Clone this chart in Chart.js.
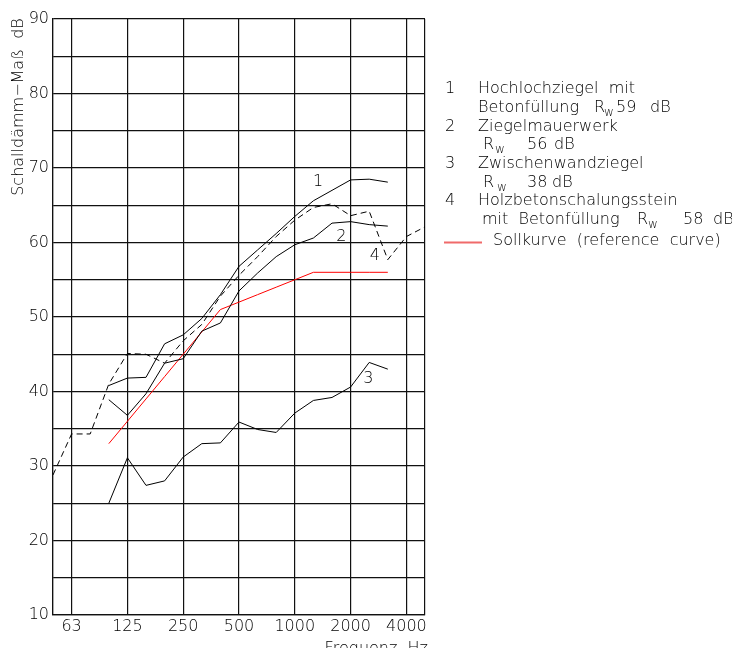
<!DOCTYPE html>
<html>
<head>
<meta charset="utf-8">
<script src="https://cdn.jsdelivr.net/npm/chart.js@4/dist/chart.umd.min.js"></script>
<style>
html,body{margin:0;padding:0;background:#fff;}
#wrap{width:732px;height:648px;}
</style>
</head>
<body>
<div id="wrap"><canvas id="c" width="732" height="648"></canvas></div>
<script>
// third-octave band centres (index 0 .. 20)
const bands = ['50','63','80','100','125','160','200','250','315','400','500','630','800','1000','1250','1600','2000','2500','3150','4000','5000'];
const tickBands = ['63','125','250','500','1000','2000','4000'];
// curves from 100 Hz to 3150 Hz
const bands100 = ['100','125','160','200','250','315','400','500','630','800','1000','1250','1600','2000','2500','3150'];
const hochlochziegel = [40.8, 41.8, 41.9, 46.4, 47.6, 49.8, 53.0, 56.8, 59.0, 61.2, 63.5, 65.6, 67.0, 68.4, 68.5, 68.1];
const ziegelmauerwerk = [38.9, 36.8, 39.7, 43.8, 44.4, 48.1, 49.2, 53.5, 55.9, 58.1, 59.7, 60.6, 62.6, 62.8, 62.4, 62.2];
const zwischenwandziegel = [25.0, 31.1, 27.4, 28.0, 31.2, 33.0, 33.1, 35.9, 34.9, 34.5, 37.1, 38.8, 39.2, 40.6, 43.9, 43.0];
const sollkurve = [33, 36, 39, 42, 45, 48, 51, 52, 53, 54, 55, 56, 56, 56, 56, 56];
// dashed curve from 50 Hz to 5000 Hz
const holzbeton = [28.8, 34.3, 34.3, 41.0, 45.1, 45.0, 43.8, 46.8, 49.0, 52.8, 55.6, 58.1, 60.8, 63.0, 64.7, 65.2, 63.6, 64.2, 57.7, 60.8, 62.1];

const yTicks = [10, 20, 30, 40, 50, 60, 70, 80, 90];

function pts(freqs, vals) {
  return vals.map((v, i) => ({ x: bands.indexOf(freqs[i]), y: v }));
}

const FONT = "'DejaVu Sans', 'Liberation Sans', sans-serif";
const TXT = '#000';

const textPlugin = {
  id: 'texts',
  afterDraw(chart) {
    const ctx = chart.ctx;
    const xs = chart.scales.x, ys = chart.scales.y;
    ctx.save();
    ctx.fillStyle = TXT;
    ctx.font = '200 16px ' + FONT;
    // y-axis title
    ctx.save();
    ctx.translate(19, 107);
    ctx.rotate(-Math.PI / 2);
    ctx.textAlign = 'center';
    ctx.textBaseline = 'middle';
    ctx.fillText('Schalldämm\u2212Maß  dB', 0, 0);
    ctx.restore();
    // x-axis title
    ctx.textAlign = 'right';
    ctx.textBaseline = 'alphabetic';
    ctx.fillText('Frequenz  Hz', 428, 653);
    // curve numbers
    ctx.textAlign = 'center';
    ctx.textBaseline = 'middle';
    const ann = [['1', 14.25, 68.2], ['2', 15.5, 60.7], ['3', 16.95, 41.7], ['4', 17.3, 58.2]];
    ann.forEach(a => ctx.fillText(a[0], xs.getPixelForValue(a[1]), ys.getPixelForValue(a[2])));
    // legend
    ctx.textAlign = 'left';
    const put = (s, x, y) => ctx.fillText(s, x, y);
    const sub = (x, y) => { ctx.font = '200 12px ' + FONT; ctx.fillText('w', x, y + 5); ctx.font = '200 16px ' + FONT; };
    put('1', 445, 89); put('Hochlochziegel  mit', 478, 89);
    put('Betonfüllung', 478, 107.5); put('R', 594, 107.5); sub(604, 107.5); put('59', 616, 107.5); put('dB', 650, 107.5);
    put('2', 445, 126.5); put('Ziegelmauerwerk', 478, 126.5);
    put('R', 483, 145); sub(495, 145); put('56', 527, 145); put('dB', 554, 145);
    put('3', 445, 164); put('Zwischenwandziegel', 478, 164);
    put('R', 483, 182.5); sub(497, 182.5); put('38', 527, 182.5); put('dB', 552, 182.5);
    put('4', 445, 201); put('Holzbetonschalungsstein', 478, 201);
    put('mit  Betonfüllung', 482, 220); put('R', 637, 220); sub(648, 220); put('58', 683, 220); put('dB', 713, 220);
    ctx.strokeStyle = '#f06a6a';
    ctx.lineWidth = 2;
    ctx.beginPath(); ctx.moveTo(444, 242.5); ctx.lineTo(482, 242.5); ctx.stroke();
    put('Sollkurve  (reference  curve)', 493, 241);
    ctx.restore();
  }
};

const lineBase = { borderColor: '#000', borderWidth: 1, pointRadius: 0, tension: 0, fill: false };

new Chart(document.getElementById('c'), {
  type: 'line',
  data: {
    datasets: [
      Object.assign({ label: 'Hochlochziegel', data: pts(bands100, hochlochziegel) }, lineBase),
      Object.assign({ label: 'Ziegelmauerwerk', data: pts(bands100, ziegelmauerwerk) }, lineBase),
      Object.assign({ label: 'Zwischenwandziegel', data: pts(bands100, zwischenwandziegel) }, lineBase),
      Object.assign({}, lineBase, { label: 'Holzbetonschalungsstein', data: pts(bands, holzbeton), borderDash: [6, 4] }),
      Object.assign({}, lineBase, { label: 'Sollkurve', data: pts(bands100, sollkurve), borderColor: '#ff0000' })
    ]
  },
  options: {
    responsive: false,
    animation: false,
    events: [],
    layout: { padding: { left: 0, right: 307, top: 19, bottom: 0 } },
    plugins: { legend: { display: false }, tooltip: { enabled: false } },
    scales: {
      x: {
        type: 'linear', min: 0, max: bands.length - 1,
        afterBuildTicks(scale) {
          const t = [0, ...tickBands.map(b => bands.indexOf(b)), bands.length - 1];
          scale.ticks = t.map(v => ({ value: v }));
        },
        afterFit(scale) { scale.height = 33; },
        ticks: {
          autoSkip: false, maxRotation: 0, padding: 2,
          color: TXT, font: { family: FONT, size: 16, weight: 200 },
          callback(v) { const b = bands[v]; return tickBands.includes(b) ? b : ''; }
        },
        grid: { color: '#111', lineWidth: 1.2, drawTicks: false },
        border: { color: '#111', width: 1.2 }
      },
      y: {
        min: 10, max: 90,
        afterFit(scale) { scale.width = 53; },
        ticks: {
          stepSize: 5, padding: 4, color: TXT, font: { family: FONT, size: 16, weight: 200 },
          callback(v) { return yTicks.includes(v) ? String(v) : ''; }
        },
        grid: { color: '#111', lineWidth: 1.2, drawTicks: false },
        border: { color: '#111', width: 1.2 }
      }
    }
  },
  plugins: [textPlugin]
});
</script>
</body>
</html>
